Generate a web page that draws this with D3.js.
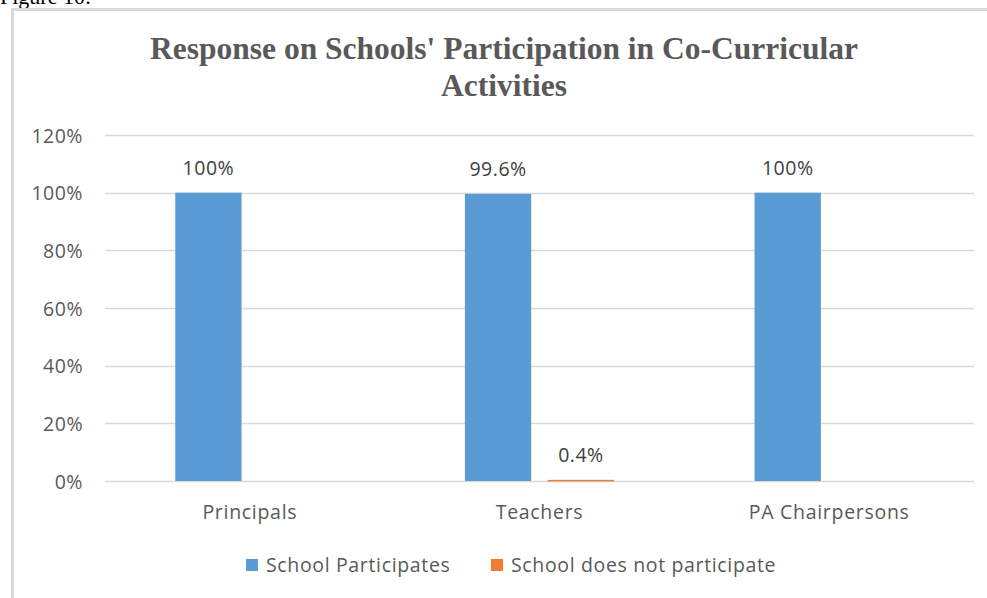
<!DOCTYPE html>
<html>
<head>
<meta charset="utf-8">
<script src="https://cdn.jsdelivr.net/npm/d3@7"></script>
<style>
  html, body { margin: 0; padding: 0; background: #fff; }
  svg { display: block; }
</style>
</head>
<body>
<svg id="chart" width="987" height="598"></svg>
<script>
const categories = ["Principals", "Teachers", "PA Chairpersons"];
const seriesNames = ["School Participates", "School does not participate"];
const participates = [100, 99.6, 100];
const notParticipate = [null, 0.4, null];
const dataLabels = [["100%", null], ["99.6%", "0.4%"], ["100%", null]];
const yTicks = [0, 20, 40, 60, 80, 100, 120];
const yTickLabels = ["0%", "20%", "40%", "60%", "80%", "100%", "120%"];
const titleLines = ["Response on Schools' Participation in Co-Curricular", "Activities"];
const colors = ["#5B9BD5", "#ED7D31"];

const svg = d3.select("#chart");
const sans = "'Open Sans', sans-serif";

// caption fragment above frame
svg.append("text").attr("x", 0).attr("y", 4)
  .attr("font-family", "'Liberation Serif', 'Times New Roman', serif")
  .attr("font-size", 22).attr("fill", "#000").text("Figure 10:");

// frame
svg.append("rect").attr("x", 12.5).attr("y", 9.5).attr("width", 1000).attr("height", 620)
  .attr("fill", "none").attr("stroke", "#d9d9d9").attr("stroke-width", 3);

// title
const title = svg.append("text").attr("text-anchor", "middle")
  .attr("font-family", "'Liberation Serif', 'Times New Roman', serif")
  .attr("font-weight", "bold").attr("font-size", 31.5).attr("fill", "#595959");
titleLines.forEach((t, i) => {
  title.append("tspan").attr("x", 504).attr("y", 59 + i * 37).text(t);
});

const plotLeft = 105, plotRight = 974, plotTop = 135, plotBottom = 481;

const y = d3.scaleLinear().domain([0, 120]).range([plotBottom, plotTop]);
const x0 = d3.scaleBand().domain(categories).range([plotLeft, plotRight])
  .paddingInner(0.485).paddingOuter(0.2425);
const x1 = d3.scaleBand().domain(seriesNames).range([0, x0.bandwidth()]).paddingInner(0.2);

// gridlines
svg.append("g").selectAll("line").data(yTicks).join("line")
  .attr("x1", plotLeft).attr("x2", plotRight)
  .attr("y1", d => Math.round(y(d)) + 0.5).attr("y2", d => Math.round(y(d)) + 0.5)
  .attr("stroke", "#d9d9d9").attr("stroke-width", 1.3);

// y axis labels
const yAxis = d3.axisLeft(y).tickValues(yTicks).tickFormat((d, i) => yTickLabels[i]).tickSize(0).tickPadding(0);
const yg = svg.append("g").attr("transform", `translate(83,0)`).call(yAxis);
yg.select(".domain").remove();
yg.selectAll("text").attr("font-family", sans).attr("font-size", 19.5).attr("fill", "#595959")
  .attr("letter-spacing", 0.5).attr("dy", "0.36em");

// bars
const rows = categories.map((c, i) => ({ cat: c, vals: [participates[i], notParticipate[i]], labels: dataLabels[i] }));
const groups = svg.append("g").selectAll("g").data(rows).join("g")
  .attr("transform", d => `translate(${x0(d.cat)},0)`);
groups.selectAll("rect").data(d => d.vals.map((v, j) => ({ v, s: seriesNames[j], j })).filter(e => e.v != null))
  .join("rect")
  .attr("x", d => x1(d.s)).attr("width", x1.bandwidth())
  .attr("y", d => y(d.v)).attr("height", d => Math.max(1.5, y(0) - y(d.v)))
  .attr("fill", d => colors[d.j]);
groups.selectAll("text").data(d => d.vals.map((v, j) => ({ v, s: seriesNames[j], l: d.labels[j] })).filter(e => e.v != null))
  .join("text")
  .attr("x", d => x1(d.s) + x1.bandwidth() / 2).attr("y", d => y(d.v) - 18)
  .attr("text-anchor", "middle").attr("font-family", sans).attr("font-size", 19.5).attr("fill", "#404040")
  .attr("letter-spacing", 0.5)
  .text(d => d.l);

// x axis labels
const xAxis = d3.axisBottom(x0).tickSize(0).tickPadding(0);
const xg = svg.append("g").attr("transform", `translate(0,${plotBottom})`).call(xAxis);
xg.select(".domain").remove();
xg.selectAll("text").attr("font-family", sans).attr("font-size", 19.5).attr("fill", "#595959")
  .attr("letter-spacing", 0.7).attr("dy", null).attr("y", 38);

// legend
const legendItems = [{ name: seriesNames[0], x: 246 }, { name: seriesNames[1], x: 491 }];
const lg = svg.append("g").selectAll("g").data(legendItems).join("g")
  .attr("transform", d => `translate(${d.x},559)`);
lg.append("rect").attr("width", 12).attr("height", 12).attr("fill", (d, i) => colors[i]);
lg.append("text").attr("x", 20).attr("y", 13).attr("font-family", sans).attr("font-size", 19.5)
  .attr("letter-spacing", 0.65).attr("fill", "#595959").text(d => d.name);
</script>
</body>
</html>
